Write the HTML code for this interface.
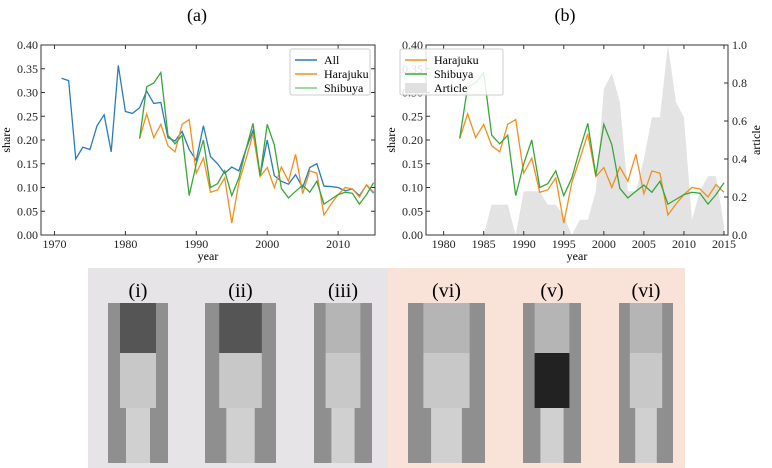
<!DOCTYPE html>
<html><head><meta charset="utf-8"><style>
body{margin:0;background:#fff;}
svg{display:block;font-family:"Liberation Serif",serif;}
</style></head><body>
<svg id="fig" width="772" height="468" viewBox="0 0 772 468">
<text x="197" y="21" font-size="18" text-anchor="middle">(a)</text>
<text x="565" y="21" font-size="18" text-anchor="middle">(b)</text>
<g id="chartA"></g>
<g id="chartB"></g>
<rect x="88" y="268" width="300" height="200" fill="#e6e4e6"/>
<rect x="388" y="268" width="297" height="200" fill="#f9e3d8"/>
<g id="photos"></g>
</svg>
<script>
const NS="http://www.w3.org/2000/svg";
const yearsAll=[1971,1972,1973,1974,1975,1976,1977,1978,1979,1980,1981,1982,1983,1984,1985,1986,1987,1988,1989,1990,1991,1992,1993,1994,1995,1996,1997,1998,1999,2000,2001,2002,2003,2004,2005,2006,2007,2008,2009,2010,2011,2012,2013,2014,2015];
const allShare=[0.33,0.325,0.16,0.185,0.18,0.23,0.253,0.175,0.357,0.26,0.256,0.268,0.303,0.277,0.279,0.205,0.198,0.218,0.18,0.157,0.23,0.165,0.15,0.13,0.143,0.135,0.18,0.22,0.125,0.2,0.125,0.113,0.107,0.127,0.1,0.142,0.15,0.103,0.102,0.1,0.093,0.097,0.083,0.105,0.088];
const yearsSub=[1982,1983,1984,1985,1986,1987,1988,1989,1990,1991,1992,1993,1994,1995,1996,1997,1998,1999,2000,2001,2002,2003,2004,2005,2006,2007,2008,2009,2010,2011,2012,2013,2014,2015];
const harajuku=[0.203,0.255,0.205,0.233,0.188,0.175,0.233,0.243,0.13,0.162,0.09,0.095,0.12,0.025,0.11,0.16,0.213,0.123,0.142,0.1,0.143,0.113,0.17,0.087,0.135,0.13,0.042,0.065,0.085,0.1,0.097,0.08,0.106,0.09];
const shibuya=[0.203,0.312,0.32,0.342,0.21,0.192,0.21,0.083,0.15,0.2,0.1,0.108,0.135,0.083,0.12,0.18,0.235,0.125,0.233,0.19,0.098,0.078,0.092,0.105,0.09,0.113,0.065,0.075,0.085,0.09,0.088,0.065,0.085,0.11];
const yearsArt=[1978,1979,1980,1981,1982,1983,1984,1985,1986,1987,1988,1989,1990,1991,1992,1993,1994,1995,1996,1997,1998,1999,2000,2001,2002,2003,2004,2005,2006,2007,2008,2009,2010,2011,2012,2013,2014,2015];
const article=[0,0,0,0,0,0,0,0,0.16,0.16,0.16,0,0.23,0.23,0.23,0.16,0.16,0.1,0,0.08,0.08,0.23,0.77,0.85,0.7,0.23,0.23,0.4,0.62,0.62,1.0,0.7,0.62,0.08,0.23,0.31,0.31,0.05];
const shareTicks=["0.00","0.05","0.10","0.15","0.20","0.25","0.30","0.35","0.40"];
const articleTicks=["0.0","0.2","0.4","0.6","0.8","1.0"];
const yearTicksA=[1970,1980,1990,2000,2010];
const yearTicksB=[1980,1985,1990,1995,2000,2005,2010,2015];

function el(tag,attrs,parent){const e=document.createElementNS(NS,tag);for(const k in attrs)e.setAttribute(k,attrs[k]);parent.appendChild(e);return e;}

function drawChart(g,opt){
  const L=opt.L,R=opt.R,T=45,B=235;
  const sx=v=>L+(v-opt.x0)/(opt.x1-opt.x0)*(R-L);
  const sy=v=>B-v/0.4*(B-T);
  const sa=v=>B-v*(B-T);
  if(opt.art){
    let d="M"+sx(yearsArt[0])+","+B;
    yearsArt.forEach((y,i)=>{d+=" L"+sx(y)+","+sa(article[i]);});
    d+=" L"+sx(yearsArt[yearsArt.length-1])+","+B+"Z";
    const p=el("path",{d:d,fill:"#e3e3e3"},g);
    
    
  }
  el("rect",{x:L,y:T,width:R-L,height:B-T,fill:"none",stroke:"#333","stroke-width":1},g);
  shareTicks.forEach((t,i)=>{const v=parseFloat(t),y=sy(v);
    el("line",{x1:L,x2:L+4,y1:y,y2:y,stroke:"#333"},g);
    if(!opt.art) el("line",{x1:R,x2:R-4,y1:y,y2:y,stroke:"#333"},g);
    const tx=el("text",{x:L-3,y:y+4,"font-size":12,"text-anchor":"end",fill:"#222"},g);tx.textContent=t;
    
    
  });
  if(opt.art){articleTicks.forEach(t=>{const y=sa(parseFloat(t));
    el("line",{x1:R,x2:R-4,y1:y,y2:y,stroke:"#333"},g);
    const tx=el("text",{x:R+4,y:y+4,"font-size":12,fill:"#222"},g);tx.textContent=t;
    
    
  });
    const at=el("text",{x:0,y:0,"font-size":12,"text-anchor":"middle",transform:`translate(${R+32},${(T+B)/2}) rotate(-90)`},g);at.textContent="article";
    
    
  }
  opt.xt.forEach(v=>{const x=sx(v);
    el("line",{x1:x,x2:x,y1:B,y2:B-4,stroke:"#333"},g);el("line",{x1:x,x2:x,y1:T,y2:T+4,stroke:"#333"},g);
    const tx=el("text",{x:x,y:B+13,"font-size":12,"text-anchor":"middle",fill:"#222"},g);tx.textContent=v;
    
    
  });
  const xl=el("text",{x:(L+R)/2,y:B+25,"font-size":12,"text-anchor":"middle"},g);xl.textContent="year";
  
  
  const yl=el("text",{x:0,y:0,"font-size":12,"text-anchor":"middle",transform:`translate(${L-31},${(T+B)/2}) rotate(-90)`},g);yl.textContent="share";
  
  
  const line=(xs,ys,c,name)=>{const p=el("polyline",{points:xs.map((x,i)=>sx(x)+","+sy(ys[i])).join(" "),fill:"none",stroke:c,"stroke-width":1.3},g);
    
    };
  if(!opt.art) line(yearsAll,allShare,"#2b7bba","line-all");
  line(yearsSub,harajuku,"#f0901e","line-harajuku");
  line(yearsSub,shibuya,"#3aa53a","line-shibuya");
  const lg=el("g",{},g);
  
  
  el("rect",{x:opt.lx,y:49,width:opt.lw,height:46,fill:"#fff","fill-opacity":0.85,stroke:"#ccc",rx:2},lg);
  opt.leg.forEach((e,i)=>{const y=60+i*14;
    if(e[2]) el("rect",{x:opt.lx+5,y:y-5,width:22,height:10,fill:e[1]},lg);
    else el("line",{x1:opt.lx+5,x2:opt.lx+27,y1:y,y2:y,stroke:e[1],"stroke-width":1.5},lg);
    const t=el("text",{x:opt.lx+34,y:y+4,"font-size":12},lg);t.textContent=e[0];
    
    
  });
}
drawChart(document.getElementById("chartA"),{L:41,R:375,x0:1968.1,x1:2015.2,xt:yearTicksA,lx:290,lw:80,
  leg:[["All","#2b7bba"],["Harajuku","#f0901e"],["Shibuya","#7fcf7f"]]});
drawChart(document.getElementById("chartB"),{L:426,R:728,x0:1977.8,x1:2015.5,xt:yearTicksB,art:true,lx:400,lw:103,
  leg:[["Harajuku","#f0901e"],["Shibuya","#3aa53a"],["Article","#e0e0e0",true]]});

const photos=[["(i)",108,60],["(ii)",205,71],["(iii)",314,58],["(vi)",408,77],["(v)",523,58],["(vi)",619,54]];
const pg=document.getElementById("photos");
photos.forEach((p,i)=>{
  const t=el("text",{x:p[1]+p[2]/2,y:297,"font-size":20,"text-anchor":"middle"},pg);t.textContent=p[0];
  
  
  const r=el("rect",{x:p[1],y:303,width:p[2],height:160,fill:"#8f8f8f"},pg);
  
  
  el("rect",{x:p[1]+p[2]*0.2,y:303,width:p[2]*0.6,height:50,fill:i<2?"#555":"#b5b5b5"},pg);
  el("rect",{x:p[1]+p[2]*0.2,y:353,width:p[2]*0.6,height:55,fill:i==4?"#222":"#c8c8c8"},pg);
  el("rect",{x:p[1]+p[2]*0.3,y:408,width:p[2]*0.4,height:55,fill:"#d0d0d0"},pg);
});
</script>
</body></html>
